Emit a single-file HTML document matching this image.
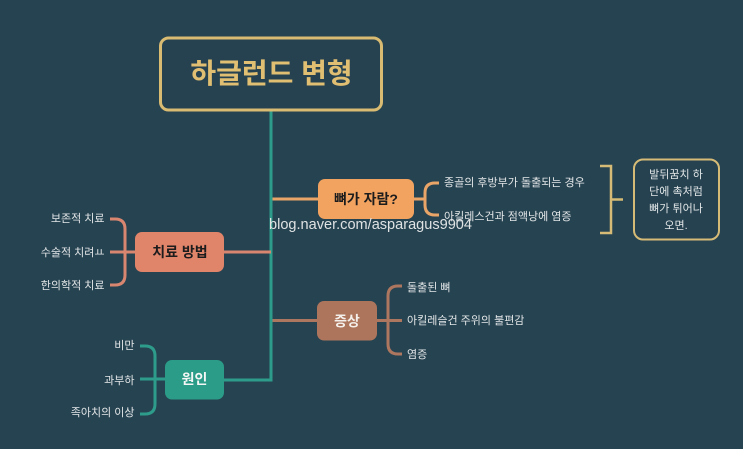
<!DOCTYPE html>
<html lang="ko">
<head>
<meta charset="utf-8">
<style>
html,body{margin:0;padding:0;background:#264351;}
svg{display:block;}
text{font-family:"Liberation Sans","Noto Sans CJK KR",sans-serif;}
.t{fill:#e2e6e7;font-size:11px;}
.n{font-size:14px;font-weight:700;text-anchor:middle;}
.l{fill:none;stroke-width:3;}
</style>
</head>
<body>
<svg width="743" height="449" viewBox="0 0 743 449" xmlns="http://www.w3.org/2000/svg">
<defs><filter id="b" x="0" y="0" width="743" height="449" filterUnits="userSpaceOnUse"><feGaussianBlur stdDeviation="0.35"/></filter></defs>
<rect width="743" height="449" fill="#264351"/>
<g filter="url(#b)">
<!-- trunk -->
<path class="l" stroke="#2f9c8b" d="M271 111V380H224"/>
<!-- root -->
<rect x="160.500" y="38" width="221" height="72" rx="8" fill="#264351" stroke="#d9bb72" stroke-width="3"/>
<text x="271.500" y="83" text-anchor="middle" font-size="28" font-weight="700" fill="#e0be72">하글런드 변형</text>
<!-- orange -->
<path class="l" stroke="#e9a468" d="M272.500 199H318M414 199H425M439 183H435Q425 183 425 193V205Q425 215 435 215H439"/>
<rect x="318" y="179" width="96" height="40" rx="7" fill="#f2a360"/>
<text class="n" x="366" y="204" fill="#1f1f1f" font-size="13.500">뼈가 자람?</text>
<text class="t" x="444" y="186">종골의 후방부가 돌출되는 경우</text>
<text class="t" x="444" y="220">아킬레스건과 점액낭에 염증</text>
<!-- right bracket -->
<path d="M600 166H611V233H600M611 199.500H623" fill="none" stroke="#d6bb76" stroke-width="2.500"/>
<rect x="634" y="159.500" width="85" height="80" rx="9" fill="#264351" stroke="#d6bb76" stroke-width="2"/>
<text class="t" x="676" y="178" text-anchor="middle">발뒤꿈치 하</text>
<text class="t" x="676" y="195" text-anchor="middle">단에 촉처럼</text>
<text class="t" x="676" y="212" text-anchor="middle">뼈가 튀어나</text>
<text class="t" x="676" y="229" text-anchor="middle">오면.</text>
<!-- treatment -->
<path class="l" stroke="#d98670" d="M224 252H271M135 252H110M110 219H115Q125 219 125 229V275Q125 285 115 285H110"/>
<rect x="135" y="232" width="89" height="40" rx="7" fill="#e0846b"/>
<text class="n" x="180" y="257" fill="#1f1f1f">치료 방법</text>
<g text-anchor="end">
<text class="t" x="104.500" y="222">보존적 치료</text>
<text class="t" x="104.500" y="256">수술적 치려ㅛ</text>
<text class="t" x="104.500" y="289">한의학적 치료</text>
</g>
<!-- symptom -->
<path class="l" stroke="#ad765f" d="M272.500 320.500H317M377 320.500H402M402 286H398Q388 286 388 296V344Q388 354 398 354H402"/>
<rect x="317" y="301" width="60" height="39.500" rx="7" fill="#ad745c"/>
<text class="n" x="347" y="326" fill="#f4efea">증상</text>
<text class="t" x="407" y="291">돌출된 뼈</text>
<text class="t" x="407" y="324">아킬레슬건 주위의 불편감</text>
<text class="t" x="407" y="358">염증</text>
<!-- cause -->
<path class="l" stroke="#2f9c8b" d="M165 379H140M140 346H145Q155 346 155 356V404Q155 414 145 414H140"/>
<rect x="165" y="360" width="59" height="39.500" rx="7" fill="#2c9c88"/>
<text class="n" x="194.500" y="384" fill="#f4f7f5">원인</text>
<g text-anchor="end">
<text class="t" x="134.500" y="349">비만</text>
<text class="t" x="134.500" y="384">과부하</text>
<text class="t" x="134.500" y="416">족아치의 이상</text>
</g>
</g>
<text x="269" y="229" font-size="14.550" fill="#dfe3e4">blog.naver.com/asparagus9904</text>
</svg>
</body>
</html>
